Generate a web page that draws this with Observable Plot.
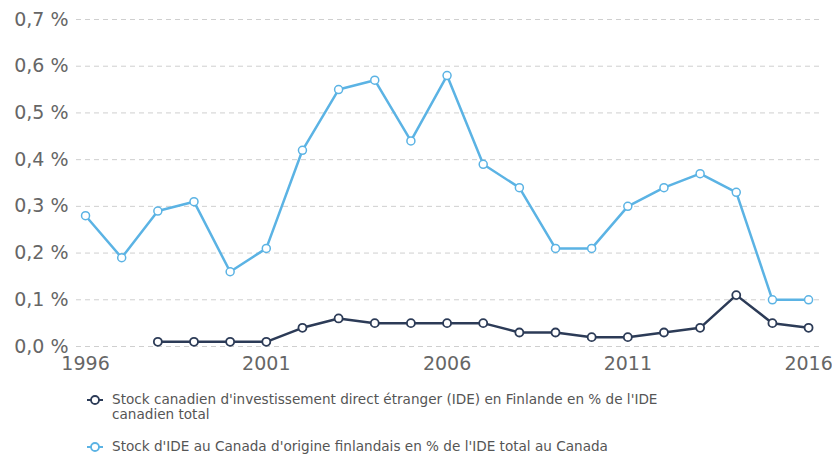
<!DOCTYPE html>
<html>
<head>
<meta charset="utf-8">
<script src="https://cdn.jsdelivr.net/npm/d3@7"></script>
<script src="https://cdn.jsdelivr.net/npm/@observablehq/plot@0.6"></script>
<style>
  body { margin: 0; background: #fff; font-family: "DejaVu Sans", sans-serif; overflow: hidden; }
  #chart { width: 832px; }
  .legend { margin-left: 87px; width: 590px; font-size: 13.6px; color: #555; }
  .item { display: flex; align-items: flex-start; margin-bottom: 17px; line-height: 15px; }
  .item svg { flex: none; margin-right: 9px; margin-top: 2px; }
</style>
</head>
<body>
<div id="chart"></div>
<script>
const years = [1996,1997,1998,1999,2000,2001,2002,2003,2004,2005,2006,2007,2008,2009,2010,2011,2012,2013,2014,2015,2016];
const darkYears = [1998,1999,2000,2001,2002,2003,2004,2005,2006,2007,2008,2009,2010,2011,2012,2013,2014,2015,2016];
const canadianInFinland = [0.01,0.01,0.01,0.01,0.04,0.06,0.05,0.05,0.05,0.05,0.03,0.03,0.02,0.02,0.03,0.04,0.11,0.05,0.04];
const finnishInCanada = [0.28,0.19,0.29,0.31,0.16,0.21,0.42,0.55,0.57,0.44,0.58,0.39,0.34,0.21,0.21,0.30,0.34,0.37,0.33,0.10,0.10];
const yTicks = [0,0.1,0.2,0.3,0.4,0.5,0.6,0.7];
const xTicks = [1996,2001,2006,2011,2016];
const seriesNames = [
  "Stock canadien d'investissement direct étranger (IDE) en Finlande en % de l'IDE canadien total",
  "Stock d'IDE au Canada d'origine finlandais en % de l'IDE total au Canada"
];
const colors = ["#2c3b57", "#5bb3e4"];

const dark = darkYears.map((y, i) => ({year: y, value: canadianInFinland[i]}));
const light = years.map((y, i) => ({year: y, value: finnishInCanada[i]}));

const chart = Plot.plot({
  width: 832,
  height: 380,
  marginLeft: 76,
  marginRight: 12,
  marginTop: 19,
  marginBottom: 34,
  style: {fontFamily: "DejaVu Sans, sans-serif", fontSize: "19px", color: "#666", background: "#fff"},
  x: {domain: [1995.75, 2016.33], ticks: xTicks, tickFormat: d => String(d), tickSize: 0, tickPadding: 10, label: null},
  y: {domain: [0, 0.7], ticks: yTicks, tickFormat: d => d.toFixed(1).replace(".", ",") + " %", tickSize: 0, tickPadding: 8, label: null},
  marks: [
    Plot.ruleY(yTicks, {stroke: "#cfcfcf", strokeDasharray: "5,4", strokeWidth: 1}),
    Plot.line(light, {x: "year", y: "value", stroke: colors[1], strokeWidth: 2.5}),
    Plot.line(dark, {x: "year", y: "value", stroke: colors[0], strokeWidth: 2.5}),
    Plot.dot(light, {x: "year", y: "value", r: 4, fill: "#fff", stroke: colors[1], strokeWidth: 1.5}),
    Plot.dot(dark, {x: "year", y: "value", r: 4, fill: "#fff", stroke: colors[0], strokeWidth: 1.8})
  ]
});
document.getElementById("chart").appendChild(chart);

const legend = document.createElement("div");
legend.className = "legend";
legend.style.marginTop = "12px";
seriesNames.forEach((name, i) => {
  const item = document.createElement("div");
  item.className = "item";
  item.innerHTML = `<svg width="16" height="12"><line x1="0" y1="6" x2="16" y2="6" stroke="${colors[i]}" stroke-width="2"/><circle cx="8" cy="6" r="4" fill="#fff" stroke="${colors[i]}" stroke-width="1.8"/></svg><span>${name}</span>`;
  legend.appendChild(item);
});
document.getElementById("chart").appendChild(legend);
</script>
</body>
</html>
